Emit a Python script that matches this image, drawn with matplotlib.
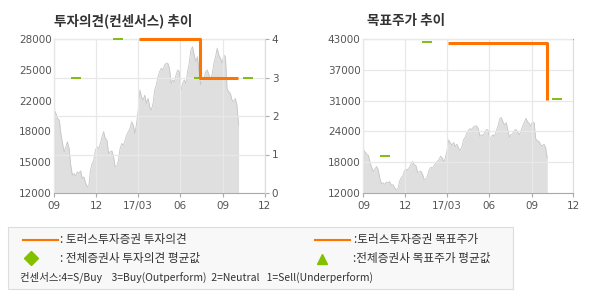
import matplotlib
matplotlib.use('Agg')
import matplotlib.pyplot as plt
from matplotlib.patches import Rectangle
import pandas as pd

plt.rcParams['font.family'] = ['Noto Sans CJK KR', 'DejaVu Sans']

# Stock price (closing), Sep 2016 - early Oct 2017
price = [20630, 20280, 19760, 19580, 18190, 17150, 16280, 16800, 17320, 16630,
         14890, 13840, 14020, 13740, 14190, 14020, 14300, 13500, 13670, 13040,
         12630, 12800, 14370, 15060, 15410, 16450, 16800, 16630, 17150, 17840,
         18370, 17670, 17500, 16100, 16280, 16380, 15760, 14710, 14780, 15410,
         16630, 17150, 16970, 17500, 18020, 18370, 18710, 19410, 19060, 18190,
         19230, 20630, 22710, 22020, 21670, 22190, 21320, 21840, 20970, 20630,
         21320, 22710, 23230, 24100, 24630, 24970, 24800, 25320, 25500, 25500,
         24970, 23410, 23760, 23580, 24280, 24800, 24630, 22710, 23410, 23760,
         23410, 24630, 25500, 26890, 27230, 26360, 25670, 26190, 24630, 23230,
         23760, 23930, 24630, 24800, 24280, 23760, 24450, 25500, 26190, 27060,
         26360, 26020, 25500, 26360, 26190, 22890, 22540, 22370, 21670, 21500,
         21840, 21150, 19060]
price_dates = pd.date_range('2016-09-01', '2017-10-05', periods=len(price))

# Toros investment opinion (4=S/Buy, 3=Buy)
opinion_dates = pd.to_datetime(['2017-03-03', '2017-07-14', '2017-10-04'])
opinion = [4, 3, 3]

# Consensus average opinion
cons_op_dates = pd.to_datetime(['2016-10-18', '2017-01-17', '2017-07-12', '2017-10-25'])
cons_op = [3, 4, 3, 3]

# Toros target price
target_dates = pd.to_datetime(['2017-03-03', '2017-10-05', '2017-10-05'])
target = [42300, 42300, 30700]

# Consensus average target price
cons_tp_dates = pd.to_datetime(['2016-10-18', '2017-01-17', '2017-10-27'])
cons_tp = [19400, 42400, 30870]

x_ticks = pd.to_datetime(['2016-09-01', '2016-12-01', '2017-03-01',
                          '2017-06-01', '2017-09-01', '2017-12-01'])
x_labels = ['09', '12', '17/03', '06', '09', '12']
left_labels = ['12000', '15000', '18000', '22000', '25000', '28000']
tp_labels = ['12000', '18000', '24000', '31000', '37000', '43000']
op_labels = ['0', '1', '2', '3', '4']

ORANGE = '#ff7300'
GREEN = '#7ab800'
FILL = '#dfdfdf'
EDGE = '#c6c6c6'
GRID = '#e8e8e8'
SPINE = '#aaaaaa'
TXT = '#555555'

fig = plt.figure(figsize=(5.9, 3), dpi=100)


def base_axes(rect, ymin, ymax, ylabels):
    ax = fig.add_axes(rect)
    ax.set_xlim(pd.Timestamp('2016-09-01'), pd.Timestamp('2017-12-01'))
    ax.set_ylim(ymin, ymax)
    ax.fill_between(price_dates, price, ymin, color=FILL, lw=0, zorder=1)
    ax.plot(price_dates, price, color=EDGE, lw=0.6, zorder=1.5)
    ax.set_xticks(x_ticks)
    ax.set_xticklabels(x_labels)
    step = (ymax - ymin) / (len(ylabels) - 1)
    ax.set_yticks([ymin + i * step for i in range(len(ylabels))])
    ax.set_yticklabels(ylabels)
    ax.tick_params(axis='y', length=0, pad=2, labelsize=7.5, labelcolor=TXT)
    ax.tick_params(axis='x', length=3, color=SPINE, pad=3, labelsize=7.5, labelcolor=TXT)
    for lab in ax.get_xticklabels() + ax.get_yticklabels():
        lab.set_family('DejaVu Sans')
    for s in ['left', 'bottom', 'top']:
        ax.spines[s].set_color(SPINE)
        ax.spines[s].set_linewidth(0.8)
    ax.spines['right'].set_color('#dddddd')
    ax.spines['right'].set_linewidth(0.8)
    ax.set_axisbelow(False)
    ax.grid(axis='x', color=GRID, lw=0.9, zorder=2.5)
    return ax


# ---- left: investment opinion ----
ax1 = base_axes([0.092, 0.357, 0.357, 0.512], 12000, 28000, left_labels)
ax2 = ax1.twinx()
ax2.set_ylim(0, 4)
ax2.set_yticks(range(5))
ax2.set_yticklabels(op_labels)
ax2.tick_params(axis='y', length=3, color=SPINE, pad=2, labelsize=7.5, labelcolor=TXT)
for lab in ax2.get_yticklabels():
    lab.set_family('DejaVu Sans')
ax2.spines['right'].set_color('#dddddd')
ax2.spines['top'].set_visible(False)
ax2.spines['left'].set_visible(False)
ax2.spines['bottom'].set_visible(False)
ax2.set_axisbelow(True)
ax2.grid(axis='y', color=GRID, lw=0.9)
ax2.plot(cons_op_dates, cons_op, ls='none', marker='_', ms=6.5, mew=1.3,
         color=GREEN, zorder=3, clip_on=False)
ax2.plot(opinion_dates, opinion, drawstyle='steps-post', color=ORANGE, lw=2.2,
         zorder=4, clip_on=False, solid_capstyle='butt')
fig.text(0.092, 0.93, '투자의견(컨센서스) 추이', fontsize=9.8, fontweight='bold',
         color='#333333', va='center')

# ---- right: target price ----
ax3 = base_axes([0.616, 0.357, 0.356, 0.512], 12000, 43000, tp_labels)
ax3.grid(axis='y', color=GRID, lw=0.9, zorder=2.5)
ax3.plot(cons_tp_dates, cons_tp, ls='none', marker='_', ms=6.5, mew=1.3,
         color=GREEN, zorder=3, clip_on=False)
ax3.plot(target_dates, target, color=ORANGE, lw=2.2, zorder=4, clip_on=False,
         solid_capstyle='butt')
fig.text(0.622, 0.93, '목표주가 추이', fontsize=9.8, fontweight='bold',
         color='#333333', va='center')

# ---- legend box ----
fig.patches.append(Rectangle((7.5 / 590, 1 - 289.3 / 300), 505.5 / 590, 62 / 300,
                             transform=fig.transFigure, facecolor='#f8f8f8',
                             edgecolor='#dddddd', lw=0.8))


def fx(px):
    return px / 590


def fy(py):
    return 1 - py / 300


fig.lines.append(plt.Line2D([fx(23), fx(58)], [fy(240), fy(240)], color=ORANGE,
                            lw=1.5, transform=fig.transFigure))
fig.lines.append(plt.Line2D([fx(315), fx(350)], [fy(240), fy(240)], color=ORANGE,
                            lw=1.5, transform=fig.transFigure))
fig.lines.append(plt.Line2D([fx(31)], [fy(258)], marker='D', ms=7, color='#82c000',
                            ls='none', transform=fig.transFigure))
fig.lines.append(plt.Line2D([fx(322)], [fy(259)], marker='^', ms=7, color='#82c000',
                            ls='none', transform=fig.transFigure))
lk = dict(fontsize=8.4, color='#333333', va='center')
fig.text(fx(60), fy(240), ': 토러스투자증권 투자의견', **lk)
fig.text(fx(354), fy(240), ':토러스투자증권 목표주가', **lk)
fig.text(fx(60), fy(258), ': 전체증권사 투자의견 평균값', **lk)
fig.text(fx(353), fy(258), ':전체증권사 목표주가 평균값', **lk)
fig.text(fx(20), fy(277),
         '컨센서스:4=S/Buy    3=Buy(Outperform)  2=Neutral   1=Sell(Underperform)',
         fontsize=7.5, color='#333333', va='center')

fig.savefig('out.png', dpi=100)
